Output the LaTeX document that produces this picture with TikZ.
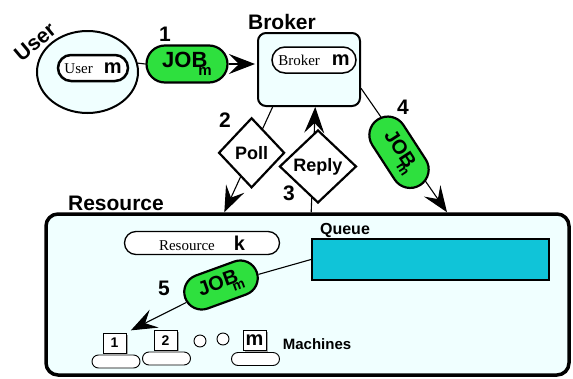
\documentclass[tikz,border=0pt]{standalone}
\usepackage{fontspec}
\setmainfont{Liberation Serif}
\setsansfont{Liberation Sans}
\usetikzlibrary{shapes.misc,shapes.geometric,arrows.meta,calc,shadows}
\definecolor{bgcyan}{RGB}{240,255,255}
\definecolor{jobgreen}{RGB}{46,224,62}
\definecolor{qcyan}{RGB}{16,196,216}
\newcommand{\fsz}[1]{\fontsize{#1}{#1}\selectfont}
\newcommand{\jobtext}[4]{{\fsz{#1}JOB\kern#3\raisebox{#4}{\fsz{#2}m}}}
\begin{document}
\begin{tikzpicture}[x=1pt,y=-1pt,
  lbl/.style={font=\sffamily\bfseries\fsz{21}, inner sep=0pt},
  smalllbl/.style={font=\sffamily\bfseries\fsz{15}, inner sep=0pt},
  pillbox/.style={draw, rounded rectangle, fill=white, inner sep=0pt},
  jobpill/.style={draw, rounded rectangle, fill=jobgreen, line width=2.2pt, inner sep=0pt, font=\sffamily\bfseries},
  dia/.style={draw, diamond, fill=white, line width=2.2pt, inner sep=0pt, font=\sffamily\bfseries\fsz{18}},
  conn/.style={line width=1.1pt},
  arr/.style={conn, -{Stealth[length=26pt,width=20pt,inset=10pt]}},
  mbox/.style={draw, fill=white, line width=0.8pt, minimum width=23pt, minimum height=20pt, inner sep=0pt, font=\sffamily\bfseries,
    drop shadow={shadow xshift=1.5pt, shadow yshift=-1.5pt, fill=gray!70, opacity=1}},
  mbase/.style={draw, rounded rectangle, fill=white, line width=0.9pt, minimum width=48pt, minimum height=13pt, inner sep=0pt},
  dot/.style={draw, circle, fill=white, line width=0.9pt, minimum size=12pt, inner sep=0pt}
]
\useasboundingbox (0,0) rectangle (573,378);

% Resource box
\node[draw, rectangle, rounded corners=12pt, line width=3.5pt, fill=bgcyan,
      minimum width=523pt, minimum height=161pt, inner sep=0pt] (res) at (307.5,294.5) {};
\node[lbl] (reslbl) at (116,203) {Resource};

% User
\node[lbl, rotate=40] (userlbl) at (35,42) {User};
\node[draw, ellipse, fill=bgcyan, line width=2pt, minimum width=101pt, minimum height=82pt, inner sep=0pt] (user) at (87.5,72) {};
\node[pillbox, line width=2.5pt, minimum width=70pt, minimum height=26pt] (userm) at (93,68)
  {{\rmfamily\fsz{15}User}\hspace{11pt}{\sffamily\bfseries\fsz{20}m}};

% Broker
\node[lbl] (brokerlbl) at (282,22) {Broker};
\node[draw, rectangle, rounded corners=8pt, fill=bgcyan, line width=2pt, minimum width=102pt, minimum height=73pt, inner sep=0pt] (broker) at (309,69.5) {};
\node[pillbox, line width=1.5pt, minimum width=84pt, minimum height=26pt] (brokerm) at (314,60)
  {{\rmfamily\fsz{15}Broker}\hspace{12pt}{\sffamily\bfseries\fsz{20}m}};

% Step 1
\node[jobpill, minimum width=81pt, minimum height=37pt] (job1) at (187,64) {\jobtext{22}{15}{-9pt}{-8pt}};
\node[lbl] (n1) at (165,34) {1};
\draw[conn] (user.10) -- (job1.west);
\draw[arr, shorten >=2pt] (job1.east) -- (job1.east -| broker.west);

% Points on broker and resource borders
\coordinate (b2) at ($(broker.south west)!0.15!(broker.south east)$);
\coordinate (b3) at ($(broker.south west)!0.56!(broker.south east)$);
\coordinate (b4) at ($(broker.north east)!0.75!(broker.south east)$);
\coordinate (r2) at ($(res.north west)!0.342!(res.north east)$);
\coordinate (r3) at ($(res.north west)!0.507!(res.north east)$);
\coordinate (r4) at ($(res.north west)!0.765!(res.north east)$);

% Step 2
\draw[arr] (b2) -- node[dia, pos=0.435, minimum width=66pt, minimum height=70pt] (poll) {Poll} (r2);
\node[lbl] (n2) at (225,120) {2};

% Step 3
\draw[arr] (r3) -- node[dia, pos=0.435, xshift=5pt, minimum width=77pt, minimum height=73pt] (reply) {Reply} (b3);
\node[lbl] (n3) at (289,193) {3};

% Step 4
\draw[arr] (b4) -- node[jobpill, pos=0.5, xshift=-5pt, yshift=-2pt, rotate=-57, minimum width=78pt, minimum height=37pt] (job4) {\jobtext{20}{14}{-8pt}{-7pt}} (r4);
\node[lbl] (n4) at (403,107) {4};

% Resource contents
\node[pillbox, line width=1.3pt, minimum width=155pt, minimum height=23pt] (resk) at (202,243)
  {{\rmfamily\fsz{15}Resource}\hspace{19pt}{\sffamily\bfseries\fsz{20}k}};
\node[smalllbl, font=\sffamily\bfseries\fsz{16}] (queuelbl) at (345,230) {Queue};
\node[draw, rectangle, fill=qcyan, line width=2pt, minimum width=237pt, minimum height=41pt, inner sep=0pt] (queue) at (430.5,259.5) {};

% Machines
\node[mbase] (base1) at (116,361.5) {};
\node[mbase] (base2) at (166.5,358.5) {};
\node[mbase] (basem) at (255.5,359) {};
\node[mbox, font=\sffamily\bfseries\fsz{14}] (m1) at (114.5,343) {1};
\node[mbox, font=\sffamily\bfseries\fsz{14}] (m2) at (165.5,340.5) {2};
\node[mbox, font=\sffamily\bfseries\fsz{20}] (mm) at (254.5,340) {m};
\node[dot] (dot1) at (200,341) {};
\node[dot] (dot2) at (223,339) {};
\node[smalllbl] (machlbl) at (317,344) {Machines};

% Step 5
\node[jobpill, rotate=20, minimum width=76pt, minimum height=35pt] (job5) at (221,285) {\jobtext{20}{14}{-8pt}{-7pt}};
\draw[conn] (queue.west) -- (job5);
\draw[arr, shorten >=5pt] (job5) -- (m1.north east);
\node[lbl] (n5) at (164,288) {5};
\end{tikzpicture}
\end{document}
